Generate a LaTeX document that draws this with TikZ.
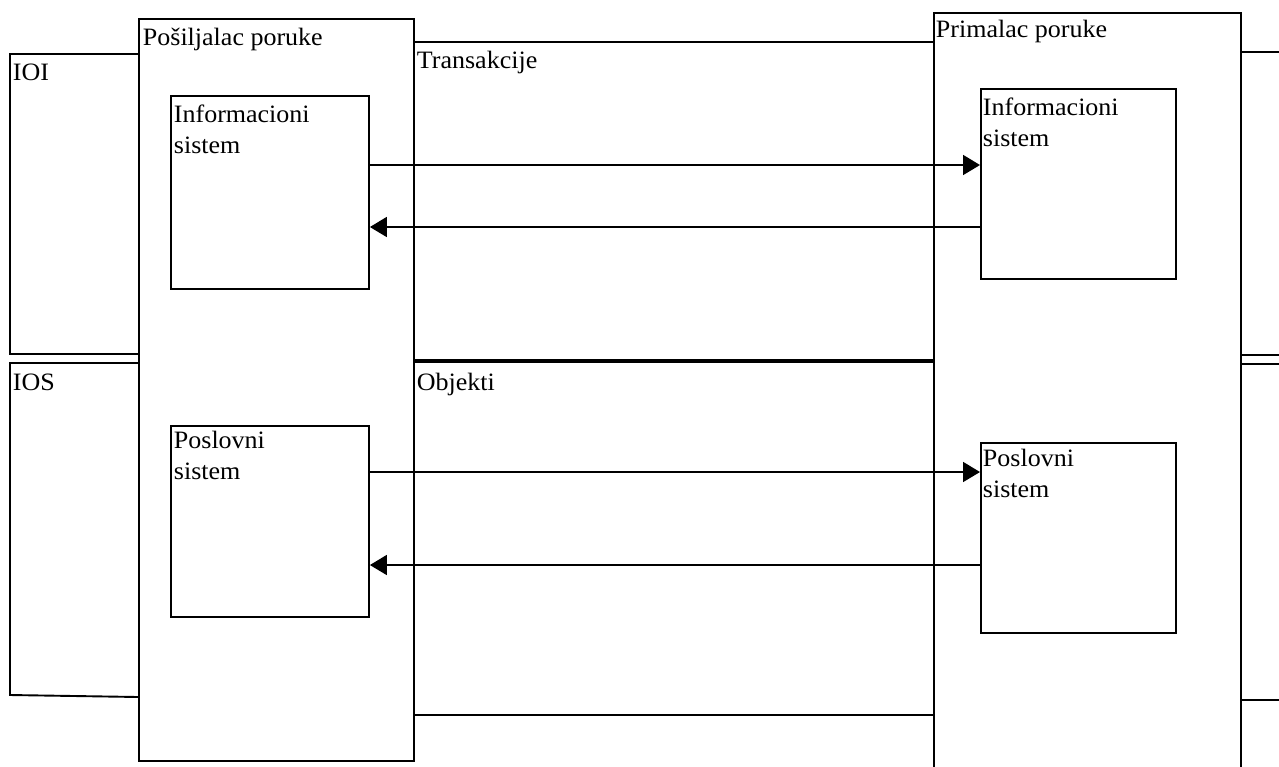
\documentclass[tikz,border=0pt]{standalone}
\usepackage{fontspec}
\setmainfont{Liberation Serif}[FakeStretch=1.04]
\usetikzlibrary{arrows.meta}
\begin{document}
\begin{tikzpicture}[x=1pt,y=-1pt,
  line width=1.9pt,
  boxnode/.style={draw, line width=1.9pt, minimum width=#1, inner sep=0pt, anchor=north west},
  lbl/.style={anchor=base west, inner sep=0pt, font=\fontsize{25}{31}\selectfont, align=left},
  flow/.style={line width=1.7pt, -{Triangle[length=17pt,width=20pt]}},
  band/.style={line width=1.9pt}]
\useasboundingbox (0,0) rectangle (1279,766);

% layer bands behind the two participants
\draw[band] (138,54) -- (10,54) -- (10,354) -- (138,354);
\draw[band] (138,363) -- (10,363) -- (10,695) -- (138,697);
\draw[band] (413,42) -- (933,42);
\draw[band, line width=4pt] (413,361) -- (933,361);
\draw[band] (413,715) -- (933,715);
\draw[band] (1240,52) -- (1285,52);
\draw[band] (1240,355) -- (1285,355);
\draw[band] (1240,364) -- (1285,364);
\draw[band] (1240,700) -- (1285,700);

% participants
\node[boxnode=275pt, minimum height=742pt] (sender) at (138,18) {};
\node[boxnode=307pt, minimum height=770pt] (receiver) at (933,12) {};

% inner systems
\node[boxnode=198pt, minimum height=193pt] (lis) at (170,95) {};
\node[boxnode=195pt, minimum height=190pt] (ris) at (980,88) {};
\node[boxnode=198pt, minimum height=191pt] (lps) at (170,425) {};
\node[boxnode=195pt, minimum height=190pt] (rps) at (980,442) {};

% labels (two-line labels are placed by their last baseline)
\node[lbl] (tsender) at (142,45) {Pošiljalac poruke};
\node[lbl] (treceiver) at (935,37) {Primalac poruke};
\node[lbl] (tioi) at (12,80) {IOI};
\node[lbl] (tios) at (12,390) {IOS};
\node[lbl] (ttrans) at (416,68) {Transakcije};
\node[lbl] (tobj) at (416,390) {Objekti};
\node[lbl] (tlis) at (173,153) {Informacioni\\sistem};
\node[lbl] (tris) at (982,146) {Informacioni\\sistem};
\node[lbl] (tlps) at (173,479) {Poslovni\\sistem};
\node[lbl] (trps) at (982,497) {Poslovni\\sistem};

% message flows
\draw[flow] (lis.east |- 0,165) -- (ris.west |- 0,165);
\draw[flow] (ris.west |- 0,227) -- (lis.east |- 0,227);
\draw[flow] (lps.east |- 0,472) -- (rps.west |- 0,472);
\draw[flow] (rps.west |- 0,565) -- (lps.east |- 0,565);
\end{tikzpicture}
\end{document}
